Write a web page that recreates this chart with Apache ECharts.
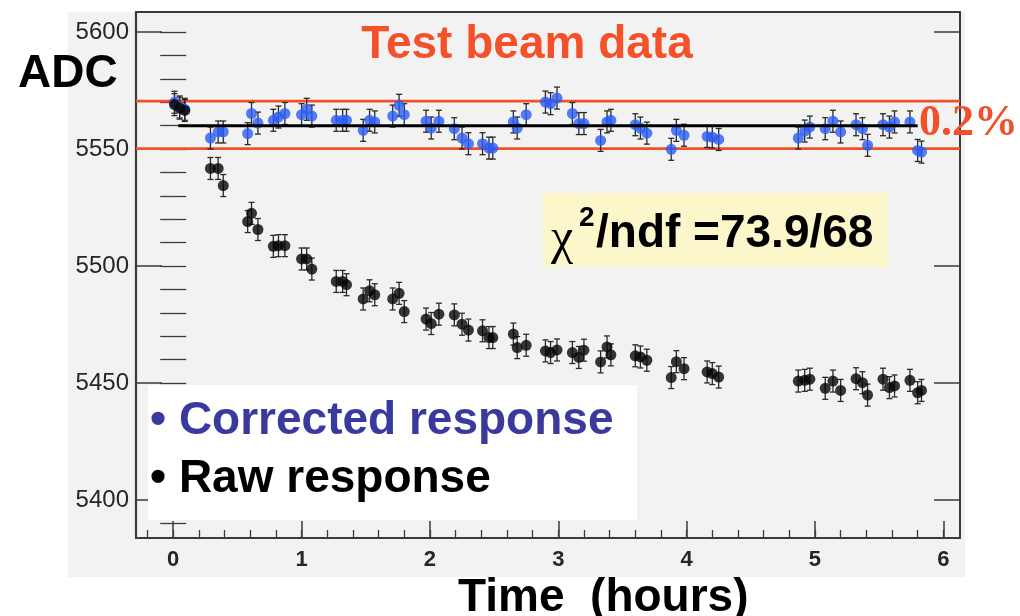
<!DOCTYPE html>
<html>
<head>
<meta charset="utf-8">
<script src="https://cdn.jsdelivr.net/npm/echarts@6/dist/echarts.min.js"></script>
<style>html,body{margin:0;padding:0;background:#fff;}#c{width:1020px;height:616px;}</style>
</head>
<body>
<div id="c"></div>
<script>
// ---- data ----
const TIME = [
  0.01, 0.05, 0.09,
  0.29, 0.35, 0.39,
  0.58, 0.61, 0.66,
  0.78, 0.82, 0.87,
  1.00, 1.04, 1.08,
  1.27, 1.32, 1.35,
  1.48, 1.53, 1.57,
  1.71, 1.76, 1.80,
  1.97, 2.01, 2.07,
  2.19, 2.25, 2.30,
  2.41, 2.46, 2.49,
  2.65, 2.68, 2.75,
  2.90, 2.94, 2.99,
  3.11, 3.16, 3.20,
  3.33, 3.38, 3.41,
  3.60, 3.64, 3.69,
  3.88, 3.92, 3.98,
  4.16, 4.20, 4.25,
  4.87, 4.92, 4.96,
  5.08, 5.14, 5.20,
  5.32, 5.37, 5.41,
  5.53, 5.58, 5.62,
  5.74, 5.80, 5.83
];
const RAW = [
  5569.0, 5567.5, 5566.5,
  5541.7, 5541.7, 5534.4,
  5519.0, 5522.5, 5515.6,
  5508.4, 5508.7, 5508.7,
  5503.0, 5503.0, 5498.7,
  5493.4, 5493.4, 5492.0,
  5485.9, 5489.4, 5487.7,
  5485.9, 5488.3, 5480.5,
  5477.3, 5475.4, 5479.4,
  5479.1, 5475.1, 5472.6,
  5472.3, 5469.4, 5469.4,
  5470.9, 5465.1, 5466.1,
  5463.7, 5463.0, 5464.1,
  5463.0, 5460.9, 5464.0,
  5459.0, 5465.4, 5462.0,
  5461.6, 5461.1, 5459.7,
  5452.3, 5459.1, 5456.1,
  5454.7, 5454.0, 5452.5,
  5450.8, 5451.1, 5451.6,
  5447.7, 5450.8, 5446.8,
  5451.8, 5450.1, 5444.8,
  5451.6, 5448.0, 5448.7,
  5451.1, 5445.8, 5446.8
];
const CORR = [
  5570.0, 5568.0, 5567.0,
  5554.7, 5557.3, 5557.3,
  5556.6, 5565.2, 5561.1,
  5562.3, 5563.7, 5565.2,
  5564.7, 5567.0, 5564.1,
  5562.3, 5562.3, 5562.3,
  5558.0, 5562.3, 5561.6,
  5564.1, 5568.7, 5564.7,
  5561.9, 5559.0, 5561.9,
  5558.7, 5554.7, 5552.3,
  5552.3, 5550.4, 5550.4,
  5561.6, 5559.0, 5564.7,
  5570.1, 5569.4, 5571.8,
  5565.2, 5560.9, 5560.9,
  5553.7, 5561.6, 5562.3,
  5560.4, 5559.0, 5556.8,
  5549.9, 5558.0, 5555.9,
  5555.4, 5555.1, 5554.1,
  5554.7, 5557.7, 5559.4,
  5558.7, 5561.9, 5557.3,
  5560.4, 5558.7, 5551.6,
  5560.4, 5559.4, 5561.6,
  5561.6, 5549.4, 5548.7
];
const ERR = 4.7;                 // half-length of each error bar (ADC)
const FIT_VALUE = 5560;          // constant fit to corrected response
const FIT_RANGE = [0.04, 5.80];  // x extent of the fit line
const BAND = [5550.2, 5570.5];   // 0.2% band lines
const X_TICKS = [0, 1, 2, 3, 4, 5, 6];
const Y_TICKS = [5400, 5450, 5500, 5550, 5600];
const X_RANGE = [-0.29, 6.13];
const Y_RANGE = [5383.7, 5608.6];

// minor tick positions (style only)
const X_MINOR = [];
for (let i = -1; i <= 30; i++) { const v = +(i * 0.2).toFixed(1); if (v >= X_RANGE[0] && v <= X_RANGE[1]) X_MINOR.push(v); }
const Y_MINOR = [];
for (let v = 5390; v <= 5600; v += 10) Y_MINOR.push(v);

const FONT = "'Liberation Sans', Arial, Helvetica, sans-serif";
const SERIF = "'Liberation Serif', 'Times New Roman', serif";
const AX = '#3a3a3a';

const rawData = TIME.map((t, i) => [t, RAW[i], ERR]);
const corrData = TIME.map((t, i) => [t, CORR[i], ERR]);

function errRender(params, api) {
  const x = api.value(0), y = api.value(1), e = api.value(2);
  const top = api.coord([x, y + e]);
  const bot = api.coord([x, y - e]);
  const w = 3;
  const st = { stroke: '#2a2a2a', lineWidth: 1.3 };
  return {
    type: 'group',
    children: [
      { type: 'line', shape: { x1: top[0], y1: top[1], x2: bot[0], y2: bot[1] }, style: st },
      { type: 'line', shape: { x1: top[0] - w, y1: top[1], x2: top[0] + w, y2: top[1] }, style: st },
      { type: 'line', shape: { x1: bot[0] - w, y1: bot[1], x2: bot[0] + w, y2: bot[1] }, style: st }
    ]
  };
}

function xAxisCfg(extra) {
  return Object.assign({
    type: 'value', min: X_RANGE[0], max: X_RANGE[1], gridIndex: 0,
    splitLine: { show: false },
    axisLine: { show: false },
    axisTick: { show: false },
    axisLabel: { show: false }
  }, extra);
}
function yAxisCfg(extra) {
  return Object.assign({
    type: 'value', min: Y_RANGE[0], max: Y_RANGE[1], gridIndex: 0,
    splitLine: { show: false },
    axisLine: { show: false },
    axisTick: { show: false },
    axisLabel: { show: false }
  }, extra);
}

const chart = echarts.init(document.getElementById('c'), null, { renderer: 'canvas' });
chart.setOption({
  animation: false,
  backgroundColor: '#ffffff',
  grid: { left: 136, right: 60, top: 12, bottom: 78, show: false },
  xAxis: [
    xAxisCfg({
      position: 'bottom',
      axisLine: { show: true, onZero: false, lineStyle: { color: AX, width: 2 } },
      axisTick: { show: true, inside: true, length: 17, customValues: X_TICKS, lineStyle: { color: AX, width: 1.5 } },
      axisLabel: { show: true, customValues: X_TICKS, margin: 11, fontSize: 22, fontWeight: 'bold', color: '#262626', fontFamily: FONT, formatter: v => String(v) }
    }),
    xAxisCfg({
      position: 'bottom',
      axisTick: { show: true, inside: true, length: 8, customValues: X_MINOR, lineStyle: { color: AX, width: 1.3 } }
    }),
    xAxisCfg({
      position: 'top',
      axisLine: { show: true, onZero: false, lineStyle: { color: AX, width: 2 } }
    })
  ],
  yAxis: [
    yAxisCfg({
      position: 'left',
      axisLine: { show: true, onZero: false, lineStyle: { color: AX, width: 2.2 } },
      axisTick: { show: true, inside: true, length: 26, customValues: Y_TICKS, lineStyle: { color: AX, width: 1.5 } },
      axisLabel: { show: true, customValues: Y_TICKS, margin: 7, fontSize: 24, color: '#262626', fontFamily: FONT, formatter: v => String(v) }
    }),
    yAxisCfg({
      position: 'left',
      axisTick: { show: true, inside: true, length: 13, customValues: Y_MINOR, lineStyle: { color: AX, width: 1.3 } }
    }),
    yAxisCfg({
      position: 'right',
      axisLine: { show: true, onZero: false, lineStyle: { color: AX, width: 2 } },
      axisTick: { show: true, inside: true, length: 26, customValues: Y_TICKS, lineStyle: { color: AX, width: 1.5 } }
    }),
    yAxisCfg({
      position: 'right',
      axisTick: { show: true, inside: true, length: 13, customValues: Y_MINOR, lineStyle: { color: AX, width: 1.3 } }
    })
  ],
  graphic: [
    { type: 'rect', silent: true, z: -100, shape: { x: 68, y: 12, width: 897, height: 565 }, style: { fill: '#f2f2f2' } },
    { type: 'rect', silent: true, z: 1, shape: { x: 148, y: 385, width: 489, height: 135 }, style: { fill: '#ffffff' } },
    { type: 'rect', silent: true, z: 1, shape: { x: 543, y: 193, width: 345, height: 74 }, style: { fill: '#fbf7cb' } },
    { type: 'text', silent: true, z: 5, style: { text: 'Test beam data', x: 527, y: 45, textAlign: 'center', textVerticalAlign: 'middle', fill: '#f4502a', fontSize: 46, fontWeight: 'bold', fontFamily: FONT } },
    { type: 'text', silent: true, z: 5, style: { text: 'ADC', x: 18, y: 74, textAlign: 'left', textVerticalAlign: 'middle', fill: '#000', fontSize: 46, fontWeight: 'bold', fontFamily: FONT } },
    { type: 'text', silent: true, z: 5, style: { text: '0.2%', x: 919, y: 124, textAlign: 'left', textVerticalAlign: 'middle', fill: '#f0502a', fontSize: 44, fontWeight: 'bold', fontFamily: SERIF } },
    { type: 'text', silent: true, z: 5, style: { text: 'χ', x: 551, y: 240, textAlign: 'left', textVerticalAlign: 'middle', fill: '#000', fontSize: 50, fontFamily: SERIF } },
    { type: 'text', silent: true, z: 5, style: { text: '2', x: 579, y: 218, textAlign: 'left', textVerticalAlign: 'middle', fill: '#000', fontSize: 28, fontWeight: 'bold', fontFamily: FONT } },
    { type: 'text', silent: true, z: 5, style: { text: '/ndf =73.9/68', x: 596, y: 234, textAlign: 'left', textVerticalAlign: 'middle', fill: '#000', fontSize: 46, fontWeight: 'bold', fontFamily: FONT } },
    { type: 'text', silent: true, z: 5, style: { text: '• Corrected response', x: 150, y: 421, textAlign: 'left', textVerticalAlign: 'middle', fill: '#3a3a9e', fontSize: 46, fontWeight: 'bold', fontFamily: FONT } },
    { type: 'text', silent: true, z: 5, style: { text: '• Raw response', x: 150, y: 479, textAlign: 'left', textVerticalAlign: 'middle', fill: '#000', fontSize: 46, fontWeight: 'bold', fontFamily: FONT } },
    { type: 'text', silent: true, z: 5, style: { text: 'Time  (hours)', x: 458, y: 598, textAlign: 'left', textVerticalAlign: 'middle', fill: '#000', fontSize: 46, fontWeight: 'bold', fontFamily: FONT } }
  ],
  series: [
    { type: 'line', xAxisIndex: 0, yAxisIndex: 0, data: [[X_RANGE[0], BAND[0]], [X_RANGE[1], BAND[0]]], symbol: 'none', lineStyle: { color: '#f0502a', width: 2.6 }, z: 2, silent: true },
    { type: 'line', xAxisIndex: 0, yAxisIndex: 0, data: [[X_RANGE[0], BAND[1]], [X_RANGE[1], BAND[1]]], symbol: 'none', lineStyle: { color: '#f0502a', width: 2.6 }, z: 2, silent: true },
    { type: 'custom', xAxisIndex: 0, yAxisIndex: 0, data: corrData, renderItem: errRender, z: 3, silent: true },
    { type: 'custom', xAxisIndex: 0, yAxisIndex: 0, data: rawData, renderItem: errRender, z: 3, silent: true },
    { type: 'scatter', name: 'Corrected response', xAxisIndex: 0, yAxisIndex: 0, data: corrData.map(d => [d[0], d[1]]), symbol: 'circle', symbolSize: 11, itemStyle: { color: '#2b5cf2' }, z: 4 },
    { type: 'scatter', name: 'Raw response', xAxisIndex: 0, yAxisIndex: 0, data: rawData.map(d => [d[0], d[1]]), symbol: 'circle', symbolSize: 11, itemStyle: { color: '#050505' }, z: 5 },
    { type: 'line', xAxisIndex: 0, yAxisIndex: 0, data: [[FIT_RANGE[0], FIT_VALUE], [FIT_RANGE[1], FIT_VALUE]], symbol: 'none', lineStyle: { color: '#000', width: 3 }, z: 6, silent: true }
  ]
});
</script>
</body>
</html>
